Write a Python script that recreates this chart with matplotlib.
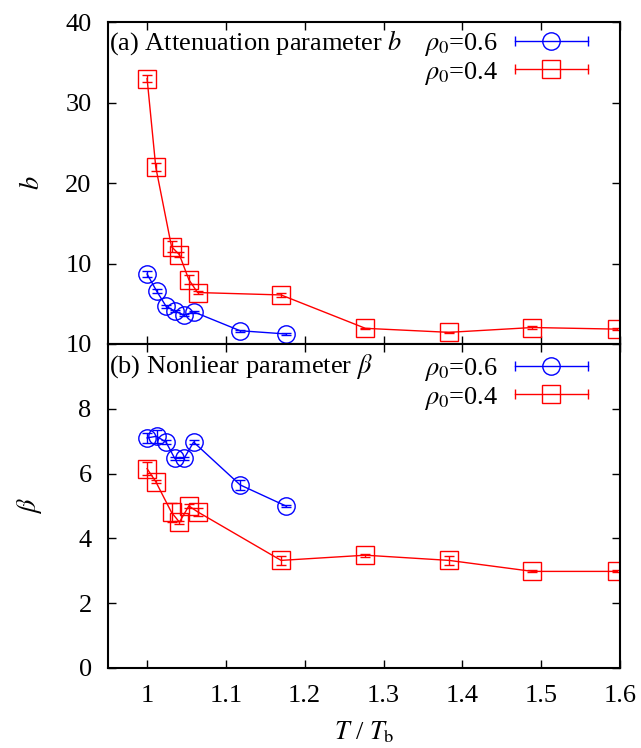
import matplotlib
matplotlib.use('Agg')
import matplotlib.pyplot as plt
from matplotlib.lines import Line2D
from matplotlib.legend_handler import HandlerBase
from matplotlib.ticker import FormatStrFormatter

plt.rcParams['font.family'] = ['Liberation Serif', 'DejaVu Serif']
plt.rcParams['mathtext.fontset'] = 'stix'
plt.rcParams['font.size'] = 19

# rho0 = 0.6
t06 = [1.0, 1.012, 1.024, 1.035, 1.047, 1.059, 1.118, 1.176]
b06 = [8.7, 6.6, 4.7, 4.1, 3.6, 4.0, 1.65, 1.25]
b06_err = [0.4, 0.3, 0.2, 0.15, 0.1, 0.15, 0.1, 0.1]
beta06 = [7.1, 7.15, 6.97, 6.47, 6.47, 6.97, 5.65, 5.0]
beta06_err = [0.15, 0.2, 0.05, 0.05, 0.05, 0.05, 0.15, 0.02]

# rho0 = 0.4
t04 = [1.0, 1.011, 1.031, 1.041, 1.053, 1.064, 1.17, 1.277, 1.383, 1.489, 1.596]
b04 = [33.0, 22.0, 12.1, 11.1, 8.0, 6.4, 6.1, 1.95, 1.45, 2.05, 1.85]
b04_err = [0.4, 0.5, 0.7, 0.3, 0.6, 0.15, 0.2, 0.1, 0.1, 0.2, 0.1]
beta04 = [6.15, 5.75, 4.8, 4.5, 5.0, 4.82, 3.32, 3.48, 3.32, 2.98, 2.98]
beta04_err = [0.2, 0.05, 0.3, 0.05, 0.05, 0.12, 0.15, 0.05, 0.15, 0.03, 0.03]

xticks = [1.0, 1.1, 1.2, 1.3, 1.4, 1.5, 1.6]

MS = {'o': 12.5, 's': 13}


class ErrHandler(HandlerBase):
    # gnuplot-like key: horizontal bar with end caps and a point in the middle
    def create_artists(self, legend, orig_handle, xdescent, ydescent,
                       width, height, fontsize, trans):
        c = orig_handle.get_color()
        m = orig_handle.get_marker()
        y = height / 2 - ydescent
        x0, x1 = -xdescent, width - xdescent
        line = Line2D([x0, x1], [y, y], color=c, lw=1.0)
        caps = Line2D([x0, x1], [y, y], ls='none', marker='|', ms=7,
                      mew=1.0, color=c)
        mk = Line2D([(x0 + x1) / 2], [y], ls='none', marker=m, ms=MS[m],
                    mfc='none', mec=c, mew=1.0)
        for a in (line, caps, mk):
            a.set_transform(trans)
        return [line, caps, mk]


fig = plt.figure(figsize=(6.41, 7.48), dpi=100)
ax1 = fig.add_axes([0.168, 0.5401, 0.7992, 0.4301])
ax2 = fig.add_axes([0.168, 0.107, 0.7992, 0.4332])

panels = [
    (ax1, b06, b06_err, b04, b04_err, '(a) Attenuation parameter $b$', '$b$', 0.936, 0.972),
    (ax2, beta06, beta06_err, beta04, beta04_err, r'(b) Nonliear parameter $\beta$', r'$\beta$', 0.930, 0.962),
]

for ax, y6, e6, y4, e4, title, ylab, ty, ly in panels:
    ax.errorbar(t06, y6, yerr=e6, color='blue', lw=1.0, elinewidth=1.0,
                capsize=3.5, marker='o', ms=MS['o'], mfc='none', mew=1.0)
    ax.errorbar(t04, y4, yerr=e4, color='red', lw=1.0, elinewidth=1.0,
                capsize=3.5, marker='s', ms=MS['s'], mfc='none', mew=1.0)
    ax.set_xlim(0.95, 1.6)
    ax.set_xticks(xticks)
    ax.xaxis.set_major_formatter(FormatStrFormatter('%g'))
    ax.tick_params(direction='in', top=True, right=True, length=5.5,
                   width=1.0, pad=11.5)
    for sp in ax.spines.values():
        sp.set_linewidth(1.5)
    ax.set_ylabel(ylab)
    ax.yaxis.set_label_coords(-0.125, 0.5)

    h6 = Line2D([], [], color='blue', marker='o')
    h4 = Line2D([], [], color='red', marker='s')
    ax.legend([h6, h4], [r'$\rho_0$=0.6', r'$\rho_0$=0.4'],
              handler_map={Line2D: ErrHandler()}, markerfirst=False,
              loc='upper right', bbox_to_anchor=(0.9375, ly),
              borderpad=0, borderaxespad=0, handlelength=2.77,
              handletextpad=0.64, labelspacing=0.05, frameon=False)
    ax.text(0.003, ty, title, transform=ax.transAxes,
            ha='left', va='center')

ax1.set_ylim(0, 40)
ax1.set_yticks([10, 20, 30, 40])
ax1.tick_params(labelbottom=False)

ax2.set_ylim(0, 10)
ax2.set_yticks([0, 2, 4, 6, 8, 10])
ax2.tick_params(axis='x', pad=12)
ax2.set_xlabel(r'$T$ / $T_{\rm b}$')
ax2.xaxis.set_label_coords(0.5, -0.16)

fig.savefig('out.png', dpi=100)
